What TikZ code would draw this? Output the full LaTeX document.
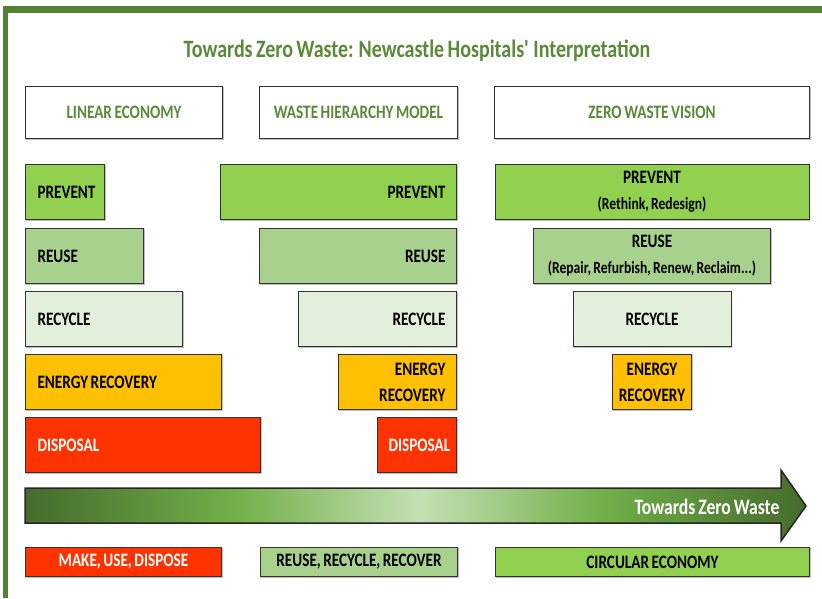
\documentclass[tikz,border=0pt]{standalone}
\usepackage{fontspec}
\setmainfont[FakeStretch=0.8, WordSpace=0.75]{Carlito}
\usepackage{tikz}
\usetikzlibrary{positioning,shadows.blur}

\definecolor{framegreen}{HTML}{548235}
\definecolor{titlegreen}{HTML}{5A8A38}
\definecolor{preventgreen}{HTML}{92D050}
\definecolor{reusegreen}{HTML}{A9D18E}
\definecolor{recyclegreen}{HTML}{E2EFDA}
\definecolor{energyamber}{HTML}{FFC000}
\definecolor{disposalred}{HTML}{FF3300}
\definecolor{arrowdark}{HTML}{446B2C}
\definecolor{arrowmid}{HTML}{72B04A}
\definecolor{arrowlight}{HTML}{C5E0B4}

% the part 25bp--75bp covers the arrow
\pgfdeclarehorizontalshading{zerowaste}{100bp}{%
  color(0bp)=(arrowdark); color(25bp)=(arrowdark); color(38.5bp)=(arrowmid);%
  color(50.3bp)=(arrowlight); color(61.8bp)=(arrowmid); color(75bp)=(arrowdark);%
  color(100bp)=(arrowdark)}

\begin{document}
\begin{tikzpicture}
[
	              x = 1pt, y = -1pt,
	      font = \bfseries\fontsize{19}{26}\selectfont,
	    box/.style = { draw=black!80, line width=1pt, rectangle, inner sep=0pt,
	                   minimum height=55pt, blur shadow={shadow xshift=0.8pt,
	                   shadow yshift=-0.8pt, shadow blur radius=0.8pt} },
	   lbox/.style = { box, anchor=north west, minimum width=#1, text width=#1-24pt, align=flush left },
	   hbox/.style = { box, anchor=north east, minimum width=#1, text width=#1-22pt, align=flush right },
	   zbox/.style = { box, anchor=north, minimum width=#1, text width=#1-10pt, align=flush center },
	 header/.style = { box, fill=white, anchor=north west, minimum height=52pt,
	                   text=titlegreen, minimum width=#1 },
	 footer/.style = { box, anchor=north west, minimum height=29pt, minimum width=#1 }
]
	% frame
	\useasboundingbox (0,0) rectangle (822,598);
	\fill [framegreen] (3,6) rectangle (822,13);
	\fill [framegreen] (3,6) rectangle (8,598);

	% title
	\node (title) at (417,51) [text=titlegreen, font=\bfseries\fontsize{25}{28}\selectfont]
		{Towards Zero Waste: Newcastle Hospitals\textquotesingle\ Interpretation};

	% headers
	\node (linear)    at (25,86)  [header=197pt] {LINEAR ECONOMY};
	\node (hierarchy) at (259,86) [header=198pt] {WASTE HIERARCHY MODEL};
	\node (vision)    at (494,86) [header=315pt] {ZERO WASTE VISION};

	% linear economy
	\node (lprevent)  at (25,164) [lbox=79pt,  fill=preventgreen] {PREVENT};
	\node (lreuse)    at (25,228) [lbox=118pt, fill=reusegreen]   {REUSE};
	\node (lrecycle)  at (25,291) [lbox=157pt, fill=recyclegreen] {RECYCLE};
	\node (lenergy)   at (25,354) [lbox=196pt, fill=energyamber]  {ENERGY RECOVERY};
	\node (ldisposal) at (25,417) [lbox=235pt, fill=disposalred, text=white] {DISPOSAL};

	% waste hierarchy model
	\node (hprevent)  at (457,164) [hbox=236pt, fill=preventgreen] {PREVENT};
	\node (hreuse)    at (457,228) [hbox=197pt, fill=reusegreen]   {REUSE};
	\node (hrecycle)  at (457,291) [hbox=158pt, fill=recyclegreen] {RECYCLE};
	\node (henergy)   at (457,354) [hbox=118pt, fill=energyamber]  {ENERGY\\RECOVERY};
	\node (hdisposal) at (457,417) [hbox=79pt,  fill=disposalred, text=white] {DISPOSAL};

	% zero waste vision
	\node (zprevent)  at (652,164) [zbox=314pt, fill=preventgreen]
		{PREVENT\\{\fontsize{17}{17}\selectfont (Rethink, Redesign)}};
	\node (zreuse)    at (652,228) [zbox=237pt, fill=reusegreen]
		{REUSE\\{\fontsize{17}{17}\selectfont (Repair, Refurbish, Renew, Reclaim...)}};
	\node (zrecycle)  at (652,291) [zbox=158pt, fill=recyclegreen] {RECYCLE};
	\node (zenergy)   at (652,354) [zbox=79pt,  fill=energyamber]  {ENERGY\\RECOVERY};

	% arrow
	\shade [shading=zerowaste, draw=black!85, line width=1.5pt]
		(25,488) -- (781,488) -- (781,470) -- (806,506) -- (781,541) -- (781,523) -- (25,523) -- cycle;
	\node (towards) at (783,507) [anchor=east, text=white, font=\bfseries\fontsize{22}{24}\selectfont]
		{Towards Zero Waste};

	% footers
	\node (makeuse)  at (25,547)  [footer=196pt, fill=disposalred, text=white] {MAKE, USE, DISPOSE};
	\node (recover)  at (260,547) [footer=197pt, fill=reusegreen]   {REUSE, RECYCLE, RECOVER};
	\node (circular) at (495,547) [footer=314pt, fill=preventgreen] {CIRCULAR ECONOMY};

\end{tikzpicture}
\end{document}
